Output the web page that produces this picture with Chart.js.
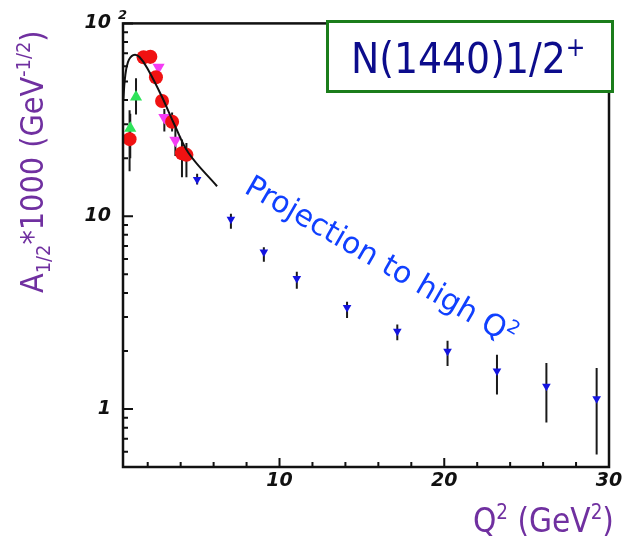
<!DOCTYPE html>
<html>
<head>
<meta charset="utf-8">
<title>N(1440)1/2+ A1/2</title>
<script src="https://cdn.jsdelivr.net/npm/chart.js@4.4.1/dist/chart.umd.min.js"></script>
<style>
    html, body { margin: 0; padding: 0; background: #fff; }
    #wrap { width: 628px; height: 549px; }
</style>
</head>
<body>
<div id="wrap"><canvas id="chart" width="628" height="549"></canvas></div>
<script>
// ==========================
// A1/2 helicity amplitude vs Q2
// ==========================

// measured points (red circles)
const redQ2 = [0.9, 1.75, 2.16, 2.5, 2.87, 3.48, 4.08, 4.35];
const redA = [25.1, 66.7, 67.1, 52.6, 39.6, 30.9, 21.2, 20.8];
const redLow = [17.1, 62, 62, 52.6, 37, 27.5, 15.9, 15.9];
const redHigh = [35.4, 72, 72, 52.6, 42, 34.5, 25, 24];

// magenta down triangles
const magQ2 = [2.66, 3.01, 3.68];
const magA = [59.2, 32.5, 24.8];
const magLow = [59.2, 27.5, 20.5];
const magHigh = [59.2, 36, 29];

// green up triangles
const greenQ2 = [0.94, 1.29];
const greenA = [28.6, 41.5];
const greenLow = [20, 33.7];
const greenHigh = [34, 52];

// projection to high Q2 (blue down triangles)
const projQ2 = [5.0, 7.05, 9.05, 11.05, 14.1, 17.15, 20.2, 23.2, 26.2, 29.25];
const projA = [15.5, 9.65, 6.51, 4.75, 3.36, 2.53, 1.995, 1.575, 1.31, 1.13];
const projLow = [14.6, 8.6, 5.8, 4.2, 2.96, 2.27, 1.67, 1.19, 0.85, 0.58];
const projHigh = [16.6, 10.3, 6.9, 5.15, 3.6, 2.74, 2.26, 1.91, 1.73, 1.63];

// model curve
const curveQ2 = [0.52, 0.62, 0.8, 1.12, 1.5, 2.05, 2.87, 3.68, 4.49, 6.21];
const curveA = [40, 52, 63, 68.5, 67, 57, 41.5, 29.1, 21.2, 14.3];

// axes
const xTickValues = [10, 20, 30];
const xMinorTicks = [2, 4, 6, 8, 12, 14, 16, 18, 22, 24, 26, 28];
const yTickValues = [1, 10, 100];
const yTickLabels = ['1', '10', '10'];
const yTopExponent = '2';
const yMinorTicks = [0.6, 0.7, 0.8, 0.9, 2, 3, 4, 5, 6, 7, 8, 9, 20, 30, 40, 50, 60, 70, 80, 90];

const toPoints = (xs, ys) => xs.map((v, i) => ({ x: v, y: ys[i] }));

const FONT = '"DejaVu Sans Condensed", "DejaVu Sans", sans-serif';

// text with sub/superscripts, parts = [[text, kind], ...]
function drawRich(ctx, parts, x, y, size, family) {
    let cx = x;
    parts.forEach(([t, kind]) => {
        const s = kind ? size * 0.62 : size;
        ctx.font = s + 'px ' + family;
        let dy = 0;
        if (kind === 'sub') dy = size * 0.22;
        if (kind === 'sup') dy = -size * 0.4;
        ctx.fillText(t, cx, y + dy);
        cx += ctx.measureText(t).width;
    });
    return cx - x;
}

// vertical error bars
const errorBars = {
    id: 'errorBars',
    beforeDatasetsDraw(chart) {
        const { ctx, chartArea, scales: { x, y } } = chart;
        ctx.save();
        ctx.beginPath();
        ctx.rect(chartArea.left, chartArea.top, chartArea.width, chartArea.height);
        ctx.clip();
        ctx.strokeStyle = '#1a1a1a';
        ctx.lineWidth = 2;
        chart.data.datasets.forEach(ds => {
            if (!ds.errLow) return;
            ds.data.forEach((p, i) => {
                const lo = ds.errLow[i];
                const hi = ds.errHigh[i];
                if (lo === hi) return;
                const px = x.getPixelForValue(p.x);
                ctx.beginPath();
                ctx.moveTo(px, y.getPixelForValue(lo));
                ctx.lineTo(px, y.getPixelForValue(hi));
                ctx.stroke();
            });
        });
        ctx.restore();
    }
};

// frame with inward ticks
const frame = {
    id: 'frame',
    afterDatasetsDraw(chart) {
        const { ctx, chartArea: a, scales: { x, y } } = chart;
        ctx.save();
        ctx.strokeStyle = '#111';
        ctx.lineWidth = 2.5;
        ctx.strokeRect(a.left, a.top, a.right - a.left, a.bottom - a.top);

        ctx.lineWidth = 2;
        ctx.beginPath();
        xMinorTicks.forEach(v => {
            const px = x.getPixelForValue(v);
            ctx.moveTo(px, a.bottom);
            ctx.lineTo(px, a.bottom - 5);
        });
        xTickValues.forEach(v => {
            const px = x.getPixelForValue(v);
            ctx.moveTo(px, a.bottom);
            ctx.lineTo(px, a.bottom - 9);
        });
        yMinorTicks.forEach(v => {
            const py = y.getPixelForValue(v);
            ctx.moveTo(a.left, py);
            ctx.lineTo(a.left + 5, py);
        });
        yTickValues.forEach(v => {
            const py = y.getPixelForValue(v);
            ctx.moveTo(a.left, py);
            ctx.lineTo(a.left + 10, py);
        });
        ctx.stroke();
        ctx.restore();
    }
};

// titles, label box and projection note
const annotations = {
    id: 'annotations',
    afterDraw(chart) {
        const { ctx, chartArea: a, scales: { y } } = chart;
        ctx.save();
        ctx.textBaseline = 'alphabetic';
        ctx.textAlign = 'left';

        // exponent on the top y label
        ctx.fillStyle = '#111';
        ctx.font = 'italic bold 13px "DejaVu Sans"';
        ctx.fillText(yTopExponent, a.left - 5, y.getPixelForValue(100) - 4);

        // y axis title
        ctx.fillStyle = '#7030a0';
        ctx.save();
        ctx.translate(43, 293);
        ctx.rotate(-Math.PI / 2);
        drawRich(ctx, [['A', ''], ['1/2', 'sub'], ['*1000 (GeV', ''], ['-1/2', 'sup'], [')', '']], 0, 0, 32, FONT);
        ctx.restore();

        // x axis title
        drawRich(ctx, [['Q', ''], ['2', 'sup'], [' (GeV', ''], ['2', 'sup'], [')', '']], 473, 532, 33, FONT);

        // resonance label box
        ctx.fillStyle = '#fff';
        ctx.fillRect(327, 21, 286, 70);
        ctx.strokeStyle = '#1b7d1b';
        ctx.lineWidth = 3;
        ctx.strokeRect(327.5, 21.5, 285, 70);
        ctx.fillStyle = '#0c0c8c';
        drawRich(ctx, [['N(1440)1/2', ''], ['+', 'sup']], 351, 73, 42, FONT);

        // projection note
        ctx.fillStyle = '#1040ff';
        ctx.translate(243, 192);
        ctx.rotate(30 * Math.PI / 180);
        drawRich(ctx, [['Projection to high Q', ''], ['2', 'sup']], 0, 0, 30, '"DejaVu Sans", sans-serif');
        ctx.restore();
    }
};

const tickFont = { family: 'DejaVu Sans', size: 19, weight: 'bold', style: 'italic' };

const chart = new Chart(document.getElementById('chart').getContext('2d'), {
    type: 'scatter',
    data: {
        datasets: [
            {
                type: 'line',
                data: toPoints(curveQ2, curveA),
                borderColor: '#111',
                borderWidth: 2,
                pointRadius: 0,
                tension: 0.4,
                fill: false
            },
            {
                data: toPoints(redQ2, redA),
                errLow: redLow,
                errHigh: redHigh,
                pointStyle: 'circle',
                pointRadius: 7,
                pointBorderWidth: 0,
                backgroundColor: '#f01212',
                borderColor: '#f01212'
            },
            {
                data: toPoints(magQ2, magA),
                errLow: magLow,
                errHigh: magHigh,
                pointStyle: 'triangle',
                pointRotation: 180,
                pointRadius: 7,
                pointBorderWidth: 0,
                backgroundColor: '#f43cf4',
                borderColor: '#f43cf4'
            },
            {
                data: toPoints(greenQ2, greenA),
                errLow: greenLow,
                errHigh: greenHigh,
                pointStyle: 'triangle',
                pointRadius: 7,
                pointBorderWidth: 0,
                backgroundColor: '#2ee35a',
                borderColor: '#2ee35a'
            },
            {
                data: toPoints(projQ2, projA),
                errLow: projLow,
                errHigh: projHigh,
                pointStyle: 'triangle',
                pointRotation: 180,
                pointRadius: 5,
                pointBorderWidth: 0,
                backgroundColor: '#1414e0',
                borderColor: '#1414e0'
            }
        ]
    },
    options: {
        responsive: false,
        animation: false,
        layout: {
            padding: { top: 19, right: 19, left: 0, bottom: 0 }
        },
        plugins: {
            legend: { display: false },
            tooltip: { enabled: false }
        },
        scales: {
            x: {
                type: 'linear',
                min: 0.5,
                max: 30,
                grid: { display: false, drawTicks: false },
                border: { display: false },
                afterBuildTicks: s => { s.ticks = xTickValues.map(v => ({ value: v })); },
                afterFit: s => { s.height = 82; },
                ticks: {
                    padding: 3,
                    color: '#111',
                    font: tickFont,
                    maxRotation: 0,
                    autoSkip: false,
                    callback: v => String(v)
                }
            },
            y: {
                type: 'logarithmic',
                min: 0.5,
                max: 100,
                grid: { display: false, drawTicks: false },
                border: { display: false },
                afterBuildTicks: s => { s.ticks = yTickValues.map(v => ({ value: v })); },
                afterFit: s => { s.width = 123; },
                ticks: {
                    padding: 12,
                    color: '#111',
                    font: tickFont,
                    autoSkip: false,
                    callback: v => yTickLabels[yTickValues.indexOf(v)]
                }
            }
        }
    },
    plugins: [errorBars, frame, annotations]
});
</script>
</body>
</html>
